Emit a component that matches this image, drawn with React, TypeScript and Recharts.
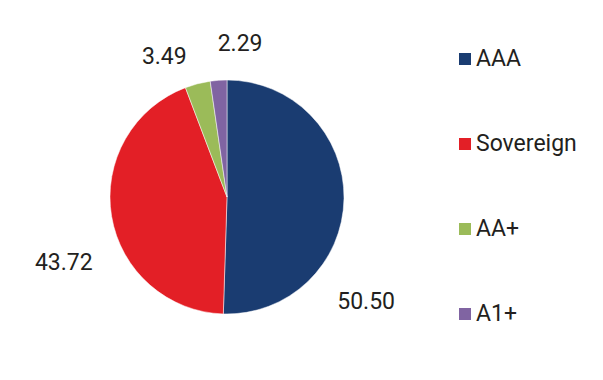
import { Cell, Legend, Pie, PieChart } from 'recharts'

const categories = ['AAA', 'Sovereign', 'AA+', 'A1+']
const values = [50.5, 43.72, 3.49, 2.29]
const colors = ['#1a3c71', '#e31f26', '#9bbb59', '#8064a2']

// best-fit style label placement: shift from slice middle (deg) and distance from centre
const labelShift = [-36, 12.5, 9.5, -9]
const labelRadius = [174, 176, 154, 154]

const data = categories.map((name, i) => ({ name, value: values[i] }))

const RAD = Math.PI / 180
const textColor = '#231f20'
const font = 'Roboto, sans-serif'

function renderLabel(props: any) {
  const { cx, cy, midAngle, index } = props
  const a = (midAngle + labelShift[index]) * RAD
  const r = labelRadius[index]
  const x = cx + r * Math.cos(a)
  const y = cy - r * Math.sin(a)
  return (
    <text
      x={x}
      y={y}
      fill={textColor}
      fontSize={23}
      fontFamily={font}
      textAnchor="middle"
      dominantBaseline="central"
    >
      {values[index].toFixed(2)}
    </text>
  )
}

function LegendList() {
  return (
    <div style={{ fontFamily: font, fontSize: 23, color: textColor }}>
      {categories.map((c, i) => (
        <div key={c} style={{ display: 'flex', alignItems: 'center', height: 85 }}>
          <span
            style={{
              display: 'inline-block',
              width: 12,
              height: 12,
              background: colors[i],
              marginRight: 5,
            }}
          />
          <span style={{ lineHeight: '26px' }}>{c}</span>
        </div>
      ))}
    </div>
  )
}

export default function App() {
  return (
    <div style={{ position: 'absolute', left: 0, top: 0, width: 603, height: 380, background: '#fff' }}>
      <PieChart width={603} height={380} margin={{ top: 0, right: 0, bottom: 0, left: 0 }}>
        <Pie
          data={data}
          dataKey="value"
          nameKey="name"
          cx={227}
          cy={197}
          outerRadius={117}
          startAngle={90}
          endAngle={-270}
          stroke="#ffffff"
          strokeWidth={0.5}
          label={renderLabel}
          labelLine={false}
          isAnimationActive={false}
        >
          {data.map((d, i) => (
            <Cell key={d.name} fill={colors[i]} />
          ))}
        </Pie>
        <Legend
          layout="vertical"
          wrapperStyle={{ left: 459, top: 16, width: 144 }}
          content={() => <LegendList />}
        />
      </PieChart>
    </div>
  )
}
